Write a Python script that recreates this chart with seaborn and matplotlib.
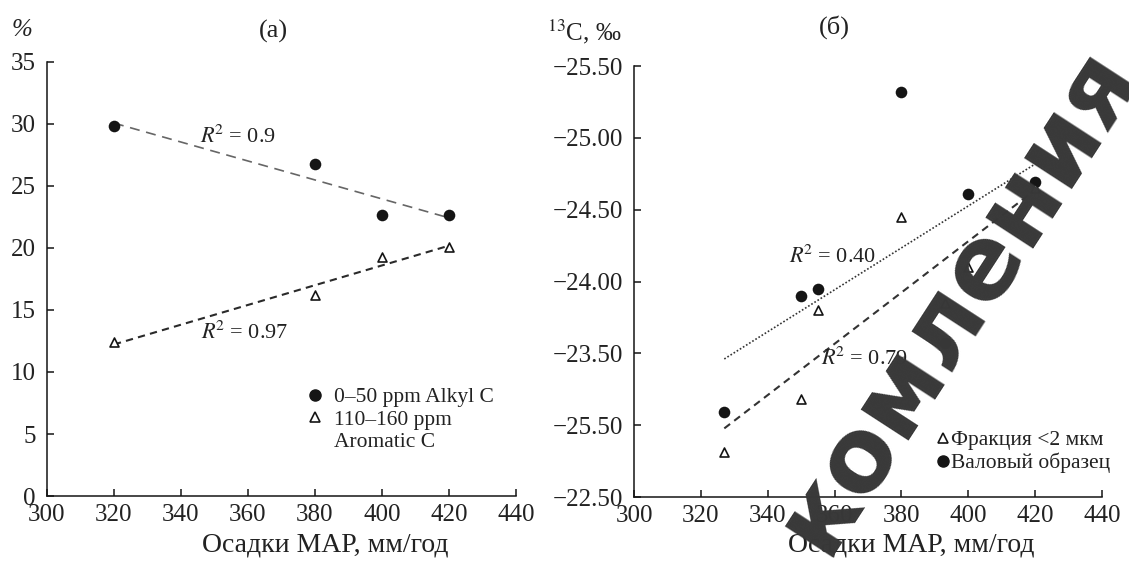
import matplotlib
matplotlib.use("Agg")
import matplotlib.pyplot as plt
import seaborn as sns
from matplotlib.lines import Line2D

# ---------------- data ----------------
# Panel (а): share of carbon forms vs mean annual precipitation
map_a = [320, 380, 400, 420]
alkyl_c = [29.8, 26.8, 22.7, 22.65]
aromatic_c = [12.4, 16.2, 19.3, 20.1]

# Panel (б): d13C vs mean annual precipitation
map_b = [327, 350, 355, 380, 393, 400, 420]
bulk_d13c = [-23.09, -23.90, -23.95, -25.32, -23.57, -24.61, -24.69]
clay_d13c = [-22.81, -23.18, -23.80, -24.45, -23.85, -24.10, -24.65]

x_ticks = [300, 320, 340, 360, 380, 400, 420, 440]
ya_ticks = [0, 5, 10, 15, 20, 25, 30, 35]
yb_ticks = [-25.5, -25.0, -24.5, -24.0, -23.5, -23.0, -22.5]
yb_labels = ["\u221225.50", "\u221225.00", "\u221224.50", "\u221224.00",
             "\u221223.50", "\u221225.50", "\u221222.50"]

r2_a = ["0.9", "0.97"]
r2_b = ["0.40", "0.79"]
legend_a = ["0\u201350 ppm Alkyl C", "110\u2013160 ppm", "Aromatic C"]
legend_b = ["\u0424\u0440\u0430\u043a\u0446\u0438\u044f <2 \u043c\u043a\u043c",
            "\u0412\u0430\u043b\u043e\u0432\u044b\u0439 \u043e\u0431\u0440\u0430\u0437\u0435\u0446"]
xlabel = "\u041e\u0441\u0430\u0434\u043a\u0438 MAP, \u043c\u043c/\u0433\u043e\u0434"

# ---------------- style ----------------
sns.set_theme(style="ticks")
plt.rcParams["font.family"] = ["Liberation Serif", "DejaVu Serif"]
plt.rcParams["mathtext.fontset"] = "stix"
plt.rcParams["axes.linewidth"] = 1.1

INK = "#151515"
R2 = r"$R^{\!2}$ = "

fig = plt.figure(figsize=(11.29, 5.63), dpi=100)
fig.patch.set_facecolor("white")
axA = fig.add_axes([0.0416, 0.1190, 0.4154, 0.7709])
axB = fig.add_axes([0.5616, 0.1172, 0.4145, 0.7655])

for ax in (axA, axB):
    ax.set_facecolor("white")
    sns.despine(ax=ax)
    ax.spines["left"].set_color(INK)
    ax.spines["bottom"].set_color(INK)
    ax.tick_params(direction="in", length=5, width=1.1, colors=INK,
                   labelsize=18, labelcolor="#222")
    ax.tick_params(axis="x", pad=6)
    ax.tick_params(axis="y", pad=8)
    ax.set_xlim(300, 440)
    ax.set_xticks(x_ticks)
    ax.set_xticklabels([str(v) for v in x_ticks])
    ax.set_xlabel("")
    ax.set_ylabel("")
    ax.grid(False)

# ---------------- panel (а) ----------------
sns.regplot(x=map_a, y=alkyl_c, ax=axA, scatter=False, ci=None, truncate=True,
            line_kws=dict(color="#666666", lw=1.2, ls=(0, (6, 4))))
sns.regplot(x=map_a, y=aromatic_c, ax=axA, scatter=False, ci=None, truncate=True,
            line_kws=dict(color="#2a2a2a", lw=1.5, ls=(0, (3.5, 2.5))))
sns.scatterplot(x=map_a, y=alkyl_c, ax=axA, marker="o", s=70, color=INK,
                edgecolor=INK, linewidth=0, zorder=4)
sns.scatterplot(x=map_a, y=aromatic_c, ax=axA, marker="^", s=42, color="white",
                edgecolor=INK, linewidth=1.2, zorder=4)
axA.set_ylim(0, 35)
axA.set_yticks(ya_ticks)
axA.set_yticklabels([str(v) for v in ya_ticks])

axA.text(357, 29.0, R2 + r2_a[0], ha="center", va="center",
         fontsize=16, color="#222")
axA.text(359, 13.2, R2 + r2_a[1], ha="center", va="center",
         fontsize=16, color="#222")

hA = [Line2D([], [], marker="o", ls="none", color=INK, markersize=8),
      Line2D([], [], marker="^", ls="none", mfc="white", mec=INK,
             markersize=6.5, mew=1.2),
      Line2D([], [], ls="none")]
legA = axA.legend(hA, legend_a, loc="upper left", bbox_to_anchor=(0.548, 0.251),
                  frameon=False, fontsize=15.5, handlelength=1.0,
                  handletextpad=0.4, labelspacing=0.12, borderpad=0,
                  borderaxespad=0)
for t in legA.get_texts():
    t.set_color("#222")

axA.text(0.593, -0.113, xlabel, transform=axA.transAxes, ha="center",
         va="center", fontsize=20, color="#222")

# ---------------- panel (б) ----------------
sns.regplot(x=map_b, y=bulk_d13c, ax=axB, scatter=False, ci=None, truncate=True,
            line_kws=dict(color="#333333", lw=1.2, ls=(0, (1, 1.2))))
sns.regplot(x=map_b, y=clay_d13c, ax=axB, scatter=False, ci=None, truncate=True,
            line_kws=dict(color="#333333", lw=1.5, ls=(0, (3.5, 2.5))))
sns.scatterplot(x=map_b, y=bulk_d13c, ax=axB, marker="o", s=70, color=INK,
                edgecolor=INK, linewidth=0, zorder=4)
sns.scatterplot(x=map_b, y=clay_d13c, ax=axB, marker="^", s=42, color="white",
                edgecolor=INK, linewidth=1.2, zorder=4)
axB.set_ylim(-22.5, -25.5)
axB.set_yticks(yb_ticks)
axB.set_yticklabels(yb_labels)

axB.text(359.5, -24.17, R2 + r2_b[0], ha="center", va="center",
         fontsize=16, color="#222")
axB.text(369, -23.46, R2 + r2_b[1], ha="center", va="center",
         fontsize=16, color="#222")

hB = [Line2D([], [], marker="^", ls="none", mfc="white", mec=INK,
             markersize=6.5, mew=1.2),
      Line2D([], [], marker="o", ls="none", color=INK, markersize=8)]
legB = axB.legend(hB, legend_b, loc="upper left", bbox_to_anchor=(0.651, 0.155),
                  frameon=False, fontsize=15.5, handlelength=0.4,
                  handletextpad=0.15, labelspacing=0.12, borderpad=0,
                  borderaxespad=0)
for t in legB.get_texts():
    t.set_color("#222")

axB.text(0.593, -0.111, xlabel, transform=axB.transAxes, ha="center",
         va="center", fontsize=20, color="#222")

# ---------------- headers ----------------
fig.text(22 / 1129, 1 - 30 / 563, "%", style="italic", fontsize=18,
         ha="center", va="center", color="#222")
fig.text(273 / 1129, 1 - 31 / 563, "(\u0430)", fontsize=19,
         ha="center", va="center", color="#222")
fig.text(547 / 1129, 1 - 32 / 563, r"$^{13}$C, " + "\u2030", fontsize=18,
         ha="left", va="center", color="#222")
fig.text(834 / 1129, 1 - 27 / 563, "(\u0431)", fontsize=19,
         ha="center", va="center", color="#222")

# ---------------- watermark ----------------
fig.text(958 / 1129, 1 - 300 / 563,
         "\u043a\u043e\u043c\u043b\u0435\u043d\u0438\u044f",
         family="DejaVu Sans", fontweight="bold", fontsize=74,
         color="#383838", rotation=57, rotation_mode="anchor",
         ha="center", va="center", zorder=20)

fig.savefig("out.png", dpi=100, facecolor="white")
